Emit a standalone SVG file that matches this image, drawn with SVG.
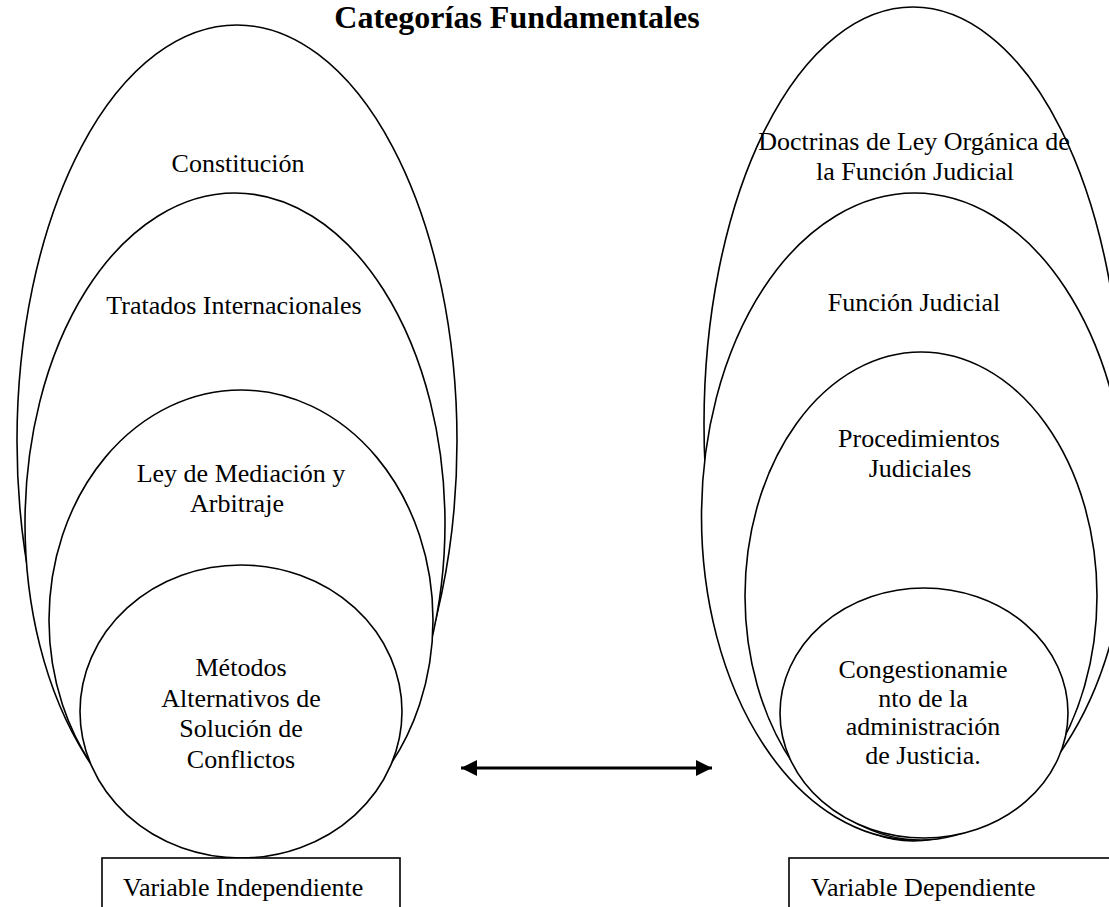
<svg xmlns="http://www.w3.org/2000/svg" width="1109" height="907" viewBox="0 0 1109 907">
  <style>
    .shape { fill: #ffffff; stroke: #000000; stroke-width: 1.6; }
    .box { fill: #ffffff; stroke: #000000; stroke-width: 1.6; }
    .lbl { font-family: "Liberation Serif", "Times New Roman", serif; font-size: 26px; fill: #000000; text-anchor: middle; }
    .boxlbl { font-family: "Liberation Serif", "Times New Roman", serif; font-size: 26px; fill: #000000; }
    .title { font-family: "Liberation Serif", "Times New Roman", serif; font-size: 32px; font-weight: bold; fill: #000000; text-anchor: middle; }
    .conn { stroke: #000000; stroke-width: 3; fill: none; }
  </style>
  <defs>
    <marker id="arrowEnd" markerUnits="userSpaceOnUse" markerWidth="18" markerHeight="18" refX="16" refY="8" orient="auto">
      <path d="M0,0 L16,8 L0,16 Z" fill="#000000"/>
    </marker>
    <marker id="arrowStart" markerUnits="userSpaceOnUse" markerWidth="18" markerHeight="18" refX="0" refY="8" orient="auto">
      <path d="M16,0 L0,8 L16,16 Z" fill="#000000"/>
    </marker>
  </defs>

  <rect x="0" y="0" width="1109" height="907" fill="#ffffff"/>

  <g id="title">
    <text class="title" x="517" y="28">Categorías Fundamentales</text>
  </g>

  <!-- Left nested set -->
  <g id="constitucion">
    <ellipse class="shape" cx="237" cy="441" rx="220" ry="416"/>
    <text class="lbl" x="238" y="172">Constitución</text>
  </g>
  <g id="tratados">
    <ellipse class="shape" cx="235" cy="523.5" rx="210" ry="330.5"/>
    <text class="lbl" x="234" y="314">Tratados Internacionales</text>
  </g>
  <g id="ley-mediacion">
    <ellipse class="shape" cx="241" cy="620" rx="192" ry="230"/>
    <text class="lbl" x="241" y="482">Ley de Mediación y</text>
    <text class="lbl" x="237" y="512">Arbitraje</text>
  </g>
  <g id="metodos">
    <ellipse class="shape" cx="241" cy="711.5" rx="161" ry="146.5"/>
    <text class="lbl" x="241" y="676">Métodos</text>
    <text class="lbl" x="241" y="707">Alternativos de</text>
    <text class="lbl" x="241" y="737">Solución de</text>
    <text class="lbl" x="241" y="768">Conflictos</text>
  </g>
  <g id="variable-independiente">
    <rect class="box" x="102" y="858" width="298" height="60"/>
    <text class="boxlbl" x="123" y="896">Variable Independiente</text>
  </g>

  <!-- Right nested set -->
  <g id="doctrinas">
    <ellipse class="shape" cx="913" cy="424" rx="209" ry="417"/>
    <text class="lbl" x="914" y="150">Doctrinas de Ley Orgánica de</text>
    <text class="lbl" x="915" y="180">la Función Judicial</text>
  </g>
  <g id="funcion-judicial">
    <ellipse class="shape" cx="914.5" cy="516.5" rx="213" ry="323.5"/>
    <text class="lbl" x="914" y="311">Función Judicial</text>
  </g>
  <g id="procedimientos">
    <ellipse class="shape" cx="921" cy="596" rx="176" ry="244"/>
    <text class="lbl" x="919" y="447">Procedimientos</text>
    <text class="lbl" x="920" y="477">Judiciales</text>
  </g>
  <g id="congestionamiento">
    <ellipse class="shape" cx="924" cy="713" rx="144" ry="125"/>
    <text class="lbl" x="923" y="678">Congestionamie</text>
    <text class="lbl" x="923" y="707">nto de la</text>
    <text class="lbl" x="923" y="735">administración</text>
    <text class="lbl" x="923" y="764">de Justicia.</text>
  </g>
  <g id="variable-dependiente">
    <rect class="box" x="789" y="858" width="340" height="60"/>
    <text class="boxlbl" x="811" y="896">Variable Dependiente</text>
  </g>

  <g id="connectors">
    <line class="conn" x1="461" y1="768" x2="712" y2="768" marker-start="url(#arrowStart)" marker-end="url(#arrowEnd)"/>
  </g>
</svg>
